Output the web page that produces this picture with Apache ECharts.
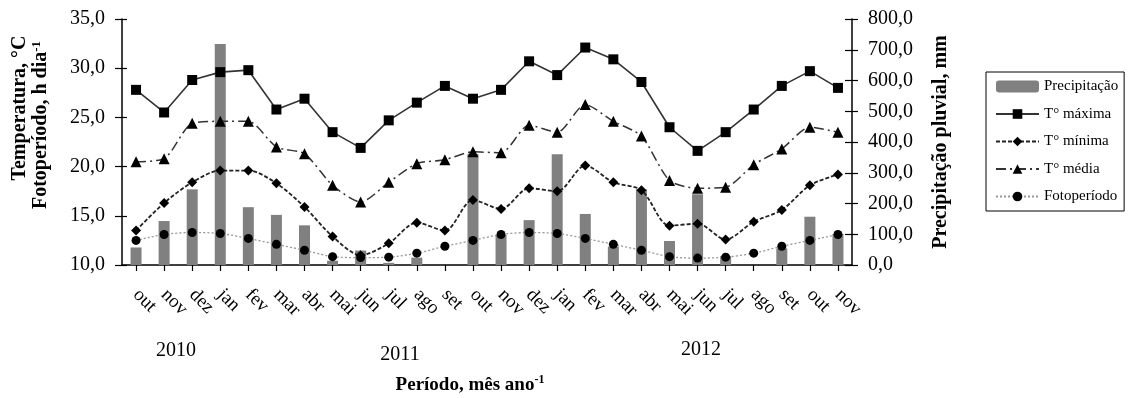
<!DOCTYPE html>
<html>
<head>
<meta charset="utf-8">
<script src="https://cdn.jsdelivr.net/npm/echarts@6/dist/echarts.min.js"></script>
<style>
html,body{margin:0;padding:0;background:#fff;}
#chart{width:1131px;height:398px;}
</style>
</head>
<body>
<div id="chart"></div>
<script>
var categories = ['out','nov','dez','jan','fev','mar','abr','mai','jun','jul','ago','set','out','nov','dez','jan','fev','mar','abr','mai','jun','jul','ago','set','out','nov'];
var precipitacao = [57,143,246,719,188,163,129,14,47,7,24,0,361,98,146,360,166,60,246,78,230,29,0,54,157,101];
var tMaxima = [27.8,25.5,28.8,29.6,29.8,25.8,26.9,23.5,21.9,24.7,26.5,28.2,26.9,27.8,30.7,29.3,32.1,30.9,28.6,24.0,21.6,23.5,25.8,28.2,29.7,28.0];
var tMinima = [13.5,16.3,18.4,19.6,19.6,18.3,15.9,12.9,11.0,12.2,14.3,13.5,16.6,15.7,17.8,17.5,20.1,18.4,17.6,14.0,14.2,12.6,14.4,15.6,18.1,19.2];
var tMedia = [20.5,20.8,24.4,24.6,24.6,22.0,21.3,18.1,16.4,18.4,20.3,20.7,21.5,21.4,24.2,23.5,26.3,24.6,23.1,18.6,17.8,17.9,20.2,21.8,24.0,23.5];
var fotoperiodo = [12.5,13.1,13.3,13.2,12.7,12.1,11.5,10.85,10.75,10.8,11.2,11.9,12.5,13.1,13.3,13.2,12.7,12.1,11.5,10.85,10.7,10.8,11.2,11.9,12.5,13.1];
var years = ['2010','2011','2012'];
var seriesNames = ['Precipitação','T° máxima','T° mínima','T° média','Fotoperíodo'];

var FONT = '"Liberation Serif","DejaVu Serif",serif';
function comma(v){ return v.toFixed(1).replace('.', ','); }

var chart = echarts.init(document.getElementById('chart'), null, {renderer:'canvas'});
var axisLine = {show:true, lineStyle:{color:'#000', width:1.5}};
var option = {
  animation:false,
  backgroundColor:'#fff',
  grid:{left:122, right:279, top:19, bottom:133},
  legend:{
    orient:'vertical', left:986, top:72,
    padding:[7,6,7,9],
    borderColor:'#000', borderWidth:1,
    itemWidth:43, itemHeight:12, itemGap:12.5,
    textStyle:{fontFamily:FONT, fontSize:15, color:'#000'},
    data:seriesNames
  },
  xAxis:{
    type:'category', data:categories, boundaryGap:true,
    axisLine:axisLine,
    axisTick:{show:true, alignWithLabel:true, length:6, lineStyle:{color:'#000', width:1.2}},
    axisLabel:{rotate:-45, margin:27, interval:0, fontFamily:FONT, fontSize:19, color:'#000'},
    splitLine:{show:false}
  },
  yAxis:[
    {type:'value', position:'left', min:10, max:35, interval:5,
     axisLine:axisLine,
     axisTick:{show:true, length:7, lineStyle:{color:'#000', width:1.2}},
     axisLabel:{margin:17, fontFamily:FONT, fontSize:20, color:'#000', formatter:comma},
     splitLine:{show:false}},
    {type:'value', position:'right', min:0, max:800, interval:100,
     axisLine:axisLine,
     axisTick:{show:true, length:6, lineStyle:{color:'#000', width:1.2}},
     axisLabel:{margin:16, fontFamily:FONT, fontSize:20, color:'#000', formatter:comma},
     splitLine:{show:false}},
    {type:'value', position:'left', min:10, max:35, interval:5,
     axisLine:{show:false},
     axisTick:{show:true, inside:true, length:5, lineStyle:{color:'#000', width:1.2}},
     axisLabel:{show:false}, splitLine:{show:false}},
    {type:'value', position:'right', min:0, max:800, interval:100,
     axisLine:{show:false},
     axisTick:{show:true, inside:true, length:7, lineStyle:{color:'#000', width:1.2}},
     axisLabel:{show:false}, splitLine:{show:false}}
  ],
  series:[
    {name:seriesNames[0], type:'bar', yAxisIndex:1, data:precipitacao, barWidth:11,
     itemStyle:{color:'#808080'}},
    {name:seriesNames[1], type:'line', yAxisIndex:0, data:tMaxima,
     symbol:'rect', symbolSize:10,
     itemStyle:{color:'#000'},
     lineStyle:{color:'#333', width:1.6, type:'solid'}},
    {name:seriesNames[2], type:'line', yAxisIndex:0, data:tMinima, smooth:0.3,
     symbol:'diamond', symbolSize:10,
     itemStyle:{color:'#000'},
     lineStyle:{color:'#222', width:1.8, type:[4,2]}},
    {name:seriesNames[3], type:'line', yAxisIndex:0, data:tMedia, smooth:0.25,
     symbol:'triangle', symbolSize:11,
     itemStyle:{color:'#000'},
     lineStyle:{color:'#333', width:1.5, type:[10,4,2,4]}},
    {name:seriesNames[4], type:'line', yAxisIndex:0, data:fotoperiodo, smooth:0.3,
     symbol:'circle', symbolSize:9,
     itemStyle:{color:'#000'},
     lineStyle:{color:'#999', width:1.3, type:[2,2]}}
  ],
  graphic:[
    {type:'text', x:20, y:108, rotation:Math.PI/2,
     style:{text:'Temperatura, °C', fontFamily:FONT, fontSize:20, fontWeight:'bold', fill:'#000', align:'center', verticalAlign:'middle'}},
    {type:'text', x:41, y:125, rotation:Math.PI/2,
     style:{text:'{a|Fotoperíodo, h dia}{s|-1}', align:'center', verticalAlign:'middle',
       rich:{a:{fontFamily:FONT, fontSize:20, fontWeight:'bold', fill:'#000', lineHeight:22},
             s:{fontFamily:FONT, fontSize:13, fontWeight:'bold', fill:'#000', lineHeight:12, verticalAlign:'top'}}}},
    {type:'text', x:941, y:142, rotation:Math.PI/2,
     style:{text:'Precipitação pluvial, mm', fontFamily:FONT, fontSize:20, fontWeight:'bold', fill:'#000', align:'center', verticalAlign:'middle'}},
    {type:'text', x:470, y:385,
     style:{text:'{a|Período, mês ano}{s|-1}', align:'center', verticalAlign:'middle',
       rich:{a:{fontFamily:FONT, fontSize:19, fontWeight:'bold', fill:'#000', lineHeight:22},
             s:{fontFamily:FONT, fontSize:12, fontWeight:'bold', fill:'#000', lineHeight:12, verticalAlign:'top'}}}},
    {type:'text', x:176, y:351,
     style:{text:years[0], fontFamily:FONT, fontSize:20, fill:'#000', align:'center', verticalAlign:'middle'}},
    {type:'text', x:400, y:355,
     style:{text:years[1], fontFamily:FONT, fontSize:20, fill:'#000', align:'center', verticalAlign:'middle'}},
    {type:'text', x:701, y:350,
     style:{text:years[2], fontFamily:FONT, fontSize:20, fill:'#000', align:'center', verticalAlign:'middle'}}
  ]
};
chart.setOption(option);
</script>
</body>
</html>
